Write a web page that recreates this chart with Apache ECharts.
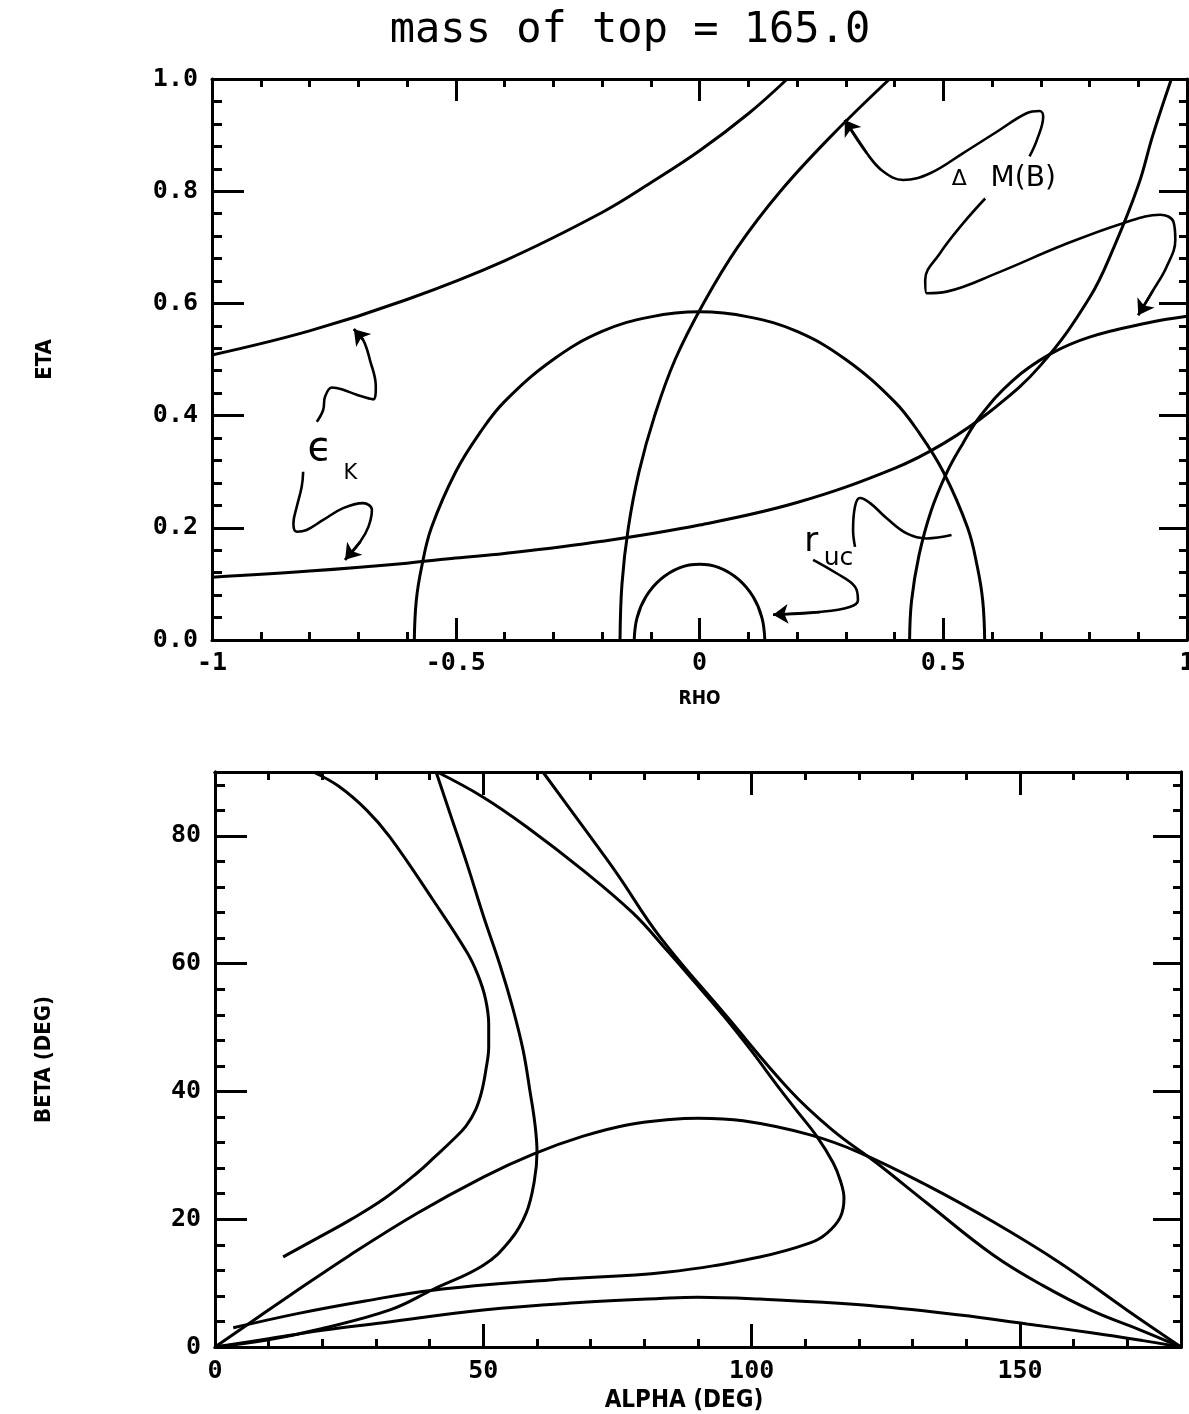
<!DOCTYPE html>
<html><head><meta charset="utf-8">
<script src="https://cdn.jsdelivr.net/npm/echarts@6/dist/echarts.min.js"></script>
<style>html,body{margin:0;padding:0;background:#fff}#c{width:1189px;height:1414px}</style>
</head><body><div id="c"></div>
<script>
// ---------- Top panel (RHO, ETA) ----------
const rhoTicks = [-1, -0.5, 0, 0.5, 1];
const etaTicks = [0, 0.2, 0.4, 0.6, 0.8, 1.0];
const epsUpper = [[-1,0.508],[-0.8,0.551],[-0.6,0.607],[-0.4,0.676],[-0.2,0.762],[-0.1,0.815],[0,0.872],[0.1,0.938],[0.18,1.0]];
const epsLower = [[-1,0.112],[-0.8,0.123],[-0.6,0.137],[-0.5,0.146],[-0.4,0.154],[-0.2,0.176],[0,0.205],[0.2,0.245],[0.4,0.306],[0.5,0.35],[0.6,0.41],[0.7,0.49],[0.8,0.61],[0.85,0.70],[0.9,0.81],[0.93,0.90],[0.968,1.0]];
const dmBig = [[-0.163,0],[-0.159,0.1],[-0.146,0.2],[-0.124,0.3],[-0.092,0.4],[-0.05,0.5],[0.008,0.6],[0.078,0.7],[0.166,0.8],[0.272,0.9],[0.39,1.0]];
const dmSmall = [[0.431,0],[0.435,0.07],[0.45,0.15],[0.475,0.23],[0.507,0.298],[0.54,0.35],[0.575,0.398],[0.643,0.463],[0.72,0.51],[0.8,0.54],[0.918,0.565],[1.0,0.577]];
const rucBig = [[-0.585,0],[-0.581,0.07],[-0.57,0.13],[-0.55,0.2],[-0.5,0.30],[-0.45,0.37],[-0.4,0.425],[-0.3,0.50],[-0.2,0.55],[-0.1,0.576],[0,0.585],[0.1,0.576],[0.2,0.55],[0.3,0.50],[0.4,0.425],[0.45,0.37],[0.5,0.30],[0.55,0.2],[0.57,0.13],[0.581,0.07],[0.585,0]];
const rucSmall = [[-0.134,0],[-0.128,0.04],[-0.11,0.077],[-0.08,0.108],[-0.04,0.129],[0,0.135],[0.04,0.129],[0.08,0.108],[0.11,0.077],[0.128,0.04],[0.134,0]];

// annotation squiggles (hand-drawn pointers)
const epsArrowUp = [[-0.785,0.389],[-0.772,0.410],[-0.768,0.434],[-0.754,0.450],[-0.734,0.447],[-0.703,0.437],[-0.669,0.429],[-0.664,0.452],[-0.676,0.499],[-0.690,0.535],[-0.709,0.554]];
const epsArrowDown = [[-0.813,0.300],[-0.816,0.273],[-0.826,0.238],[-0.833,0.208],[-0.826,0.193],[-0.806,0.196],[-0.772,0.214],[-0.731,0.235],[-0.690,0.244],[-0.672,0.232],[-0.679,0.202],[-0.696,0.175],[-0.727,0.143]];
const dmArrowUp = [[0.677,0.862],[0.692,0.891],[0.705,0.933],[0.698,0.943],[0.671,0.939],[0.610,0.906],[0.541,0.868],[0.473,0.832],[0.418,0.820],[0.377,0.835],[0.343,0.868],[0.298,0.927]];
const dmArrowDown = [[0.586,0.787],[0.541,0.743],[0.493,0.689],[0.463,0.642],[0.466,0.618],[0.507,0.621],[0.610,0.654],[0.746,0.704],[0.869,0.743],[0.945,0.758],[0.972,0.746],[0.976,0.713],[0.958,0.665],[0.931,0.624],[0.900,0.579]];
const rucTail = [[0.319,0.166],[0.315,0.196],[0.319,0.238],[0.329,0.253],[0.350,0.244],[0.384,0.217],[0.425,0.190],[0.466,0.181],[0.517,0.187]];
const rucArrowDown = [[0.233,0.143],[0.281,0.119],[0.319,0.095],[0.325,0.071],[0.308,0.059],[0.247,0.050],[0.151,0.045]];

// ---------- Bottom panel (ALPHA, BETA in degrees) ----------
const alphaTicks = [0, 50, 100, 150];
const betaTicks = [0, 20, 40, 60, 80];
const epsUpperAB = [[12.7,14.1],[19,17],[25.2,19.9],[31.5,23.2],[37.6,27.2],[41,29.8],[44.3,32.4],[46.8,34.6],[48.6,37.2],[49.7,40],[50.5,43.5],[51,47],[51,50.5],[50.4,54.5],[49.0,58.2],[47.0,61.7],[40.6,70.0],[32.6,79.8],[28.3,84.0],[23,87.8],[18.3,90]];
const epsLowerAB = [[3.4,3.0],[15.8,5.3],[28,7.2],[40.6,8.9],[62.4,10.5],[84,11.7],[101.5,14.1],[110.9,16.3],[114,17.8],[116.5,20.3],[117.2,23.3],[116.5,26.1],[115.2,28.8],[112.2,32.9],[108.2,37.2],[104.7,41.0],[100,46.3],[95,51.6],[89.5,57],[84.2,62.1],[77.9,67.9],[68.6,74.6],[58.1,81.4],[49.9,86.1],[41.4,90]];
const dmBigAB = [[0,0],[9.7,1.1],[19,2.7],[32.6,5.8],[40.6,9.0],[50,12.8],[55,16.7],[58,21],[59.5,26],[60,30.5],[59.6,35],[58.7,40],[57.4,46.5],[55.5,53],[53.1,59.8],[50,67.5],[47,75.5],[44,83],[41.2,90]];
const dmSmallAB = [[61.1,90],[68.6,81.4],[74.9,74.1],[82.9,64.2],[95.3,51.8],[107.1,40.2],[115,34],[123.3,28.8],[132.7,22.5],[145,14.4],[154.3,9.6],[163.6,5.6],[172.9,2.5],[180,0]];
const rucBigAB = [[0,0],[5,2.9],[14,8.1],[25,14.3],[37.6,20.9],[50,26.6],[59.3,30.2],[68.6,33.0],[77,34.8],[84.8,35.6],[90,35.8],[98.4,35.4],[110.9,33.2],[120.2,30.4],[132.7,25.3],[145,19.6],[157.4,13.2],[169.9,5.8],[180,0]];
const rucSmallAB = [[0,0],[10,1.3],[20,2.6],[31.3,3.8],[50,5.8],[68.6,7.0],[82.9,7.6],[90,7.8],[101.5,7.5],[120.2,6.6],[138.8,5.0],[151.3,3.6],[163.6,2.2],[172.9,1.0],[180,0]];

// ---------- chart ----------
const BLACK = '#000';
const tickFont = {fontFamily: 'DejaVu Sans Mono', fontWeight: 'bold', fontSize: 25, color: BLACK};
const nameFont = {fontFamily: 'DejaVu Sans Condensed', fontWeight: 'bold', fontSize: 22, color: BLACK};

function axis(o) {
  const a = {
    type: 'value', gridIndex: o.grid, position: o.position, min: o.min, max: o.max, interval: o.interval,
    splitLine: {show: false},
    axisLine: {show: true, onZero: false, lineStyle: {color: BLACK, width: 3}},
    axisTick: {show: true, inside: true, length: o.tickLen, lineStyle: {color: BLACK, width: 3}},
    minorTick: {show: !!o.minor, splitNumber: o.minor || 5, length: o.minorLen || 8, lineStyle: {color: BLACK, width: 3}},
    axisLabel: {show: !!o.labels, margin: o.margin || 12, showMaxLabel: o.showMax !== false, hideOverlap: false, formatter: o.formatter, ...tickFont}
  };
  if (o.name) {
    a.name = o.name; a.nameLocation = 'middle'; a.nameGap = o.nameGap;
    a.nameTextStyle = Object.assign({}, nameFont, o.nameStyle || {});
  }
  return a;
}

const fmtRho = v => (rhoTicks.indexOf(v) >= 0 ? String(v) : '');
const fmtEta = v => v.toFixed(1);

const xAxis = [
  axis({grid:0, position:'bottom', min:-1, max:1, interval:0.5, tickLen:22, minor:5, minorLen:8, labels:true, formatter: fmtRho, margin:11, name:'RHO', nameGap:50, nameStyle:{fontSize:19}}),
  axis({grid:0, position:'top', min:-1, max:1, interval:0.5, tickLen:22, minor:5, minorLen:8}),
  axis({grid:1, position:'bottom', min:0, max:180, interval:10, tickLen:8}),
  axis({grid:1, position:'top', min:0, max:180, interval:10, tickLen:8}),
  axis({grid:2, position:'bottom', min:0, max:180, interval:50, tickLen:23, labels:true, showMax:false, margin:12, name:'ALPHA (DEG)', nameGap:42, nameStyle:{fontSize:24, padding:[0,28,0,0]}}),
  axis({grid:2, position:'top', min:0, max:180, interval:50, tickLen:23})
];
const yAxis = [
  axis({grid:0, position:'left', min:0, max:1, interval:0.2, tickLen:32, minor:5, minorLen:10, labels:true, formatter: fmtEta, margin:14, name:'ETA', nameGap:156}),
  axis({grid:0, position:'right', min:0, max:1, interval:0.2, tickLen:28, minor:5, minorLen:8}),
  axis({grid:1, position:'left', min:0, max:90, interval:4, tickLen:10}),
  axis({grid:1, position:'right', min:0, max:90, interval:4, tickLen:8}),
  axis({grid:2, position:'left', min:0, max:90, interval:20, tickLen:32, labels:true, showMax:false, margin:14, name:'BETA (DEG)', nameGap:160}),
  axis({grid:2, position:'right', min:0, max:90, interval:20, tickLen:28})
];

function curve(data, xi, yi, w) {
  return {type:'line', data: data, xAxisIndex: xi, yAxisIndex: yi, showSymbol:false, symbol:'none',
          smooth: 0.4, clip: true, silent: true, lineStyle:{color: BLACK, width: w || 3}};
}
const arrowed = [epsArrowUp, epsArrowDown, dmArrowUp, dmArrowDown, rucArrowDown];
const squiggles = arrowed.concat([rucTail]);

function txt(pos, s, size) {
  return {value: pos, label: {formatter: s, fontSize: size, color: BLACK, opacity: 1}};
}

const series = [
  curve(epsUpper,0,0), curve(epsLower,0,0), curve(dmBig,0,0), curve(dmSmall,0,0), curve(rucBig,0,0), curve(rucSmall,0,0),
  ...squiggles.map(s => curve(s,0,0,2.6)),
  {type:'lines', coordinateSystem:'cartesian2d', xAxisIndex:0, yAxisIndex:0, silent:true,
   symbol:['none','arrow'], symbolSize:15,
   lineStyle:{color:BLACK, width:2.6, opacity:1},
   data: arrowed.map(s => ({coords: [s[s.length-2], s[s.length-1]]}))},
  {type:'scatter', xAxisIndex:0, yAxisIndex:0, symbolSize:0, silent:true,
   itemStyle:{color:BLACK, opacity:1},
   label:{show:true, position:'inside', color:BLACK, fontFamily:'DejaVu Sans'},
   data:[
     txt([-0.779,0.340], '\u03F5', 40),
     txt([-0.716,0.297], 'K', 21),
     txt([0.229,0.175], 'r', 34),
     txt([0.285,0.145], 'uc', 25),
     txt([0.533,0.821], '\u0394', 22),
     txt([0.664,0.822], 'M(B)', 28)
   ]},
  curve(epsUpperAB,2,2), curve(epsLowerAB,2,2), curve(dmBigAB,2,2), curve(dmSmallAB,2,2), curve(rucBigAB,2,2), curve(rucSmallAB,2,2)
];

const chart = echarts.init(document.getElementById('c'), null, {renderer:'canvas'});
chart.setOption({
  animation: false,
  backgroundColor: '#fff',
  grid: [
    {left:212, top:79, width:975, height:561, outerBoundsMode:'none', containLabel:false},
    {left:215, top:772, width:966, height:575, outerBoundsMode:'none', containLabel:false},
    {left:215, top:772, width:966, height:575, outerBoundsMode:'none', containLabel:false}
  ],
  xAxis: xAxis,
  yAxis: yAxis,
  series: series,
  graphic: [{type:'text', x:630, y:31, silent:true,
    style:{text:'mass of top = 165.0', fill:BLACK, font:'42px "DejaVu Sans Mono"', textAlign:'center', textVerticalAlign:'middle'}}]
});
</script></body></html>
